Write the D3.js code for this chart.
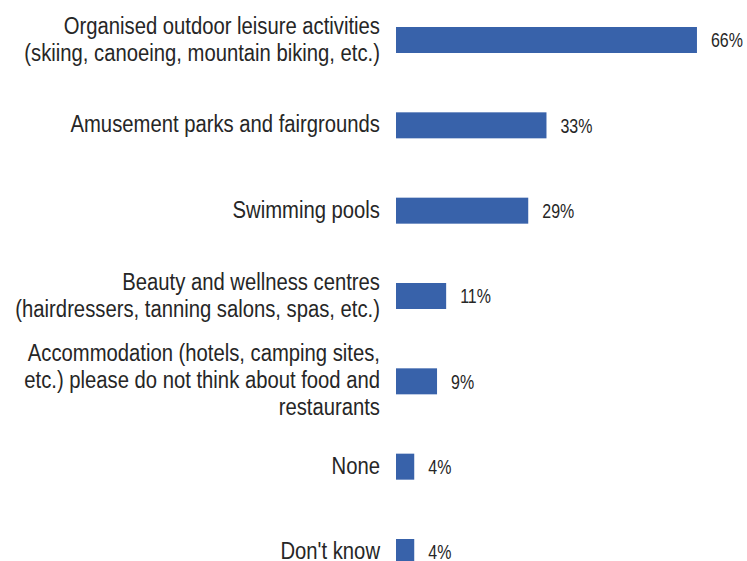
<!DOCTYPE html>
<html><head><meta charset="utf-8">
<script src="https://cdn.jsdelivr.net/npm/d3@7"></script>
<style>
body{margin:0;background:#fff;}
text{font-family:"Liberation Sans",Arial,sans-serif;fill:#262626;}
</style></head><body>
<svg id="c" width="747" height="561"></svg>
<script>
const categories = [
  ["Organised outdoor leisure activities","(skiing, canoeing, mountain biking, etc.)"],
  ["Amusement parks and fairgrounds"],
  ["Swimming pools"],
  ["Beauty and wellness centres","(hairdressers, tanning salons, spas, etc.)"],
  ["Accommodation (hotels, camping sites,","etc.) please do not think about food and","restaurants"],
  ["None"],
  ["Don't know"]
];
const values = [66, 33, 29, 11, 9, 4, 4];
const valueLabels = ["66%","33%","29%","11%","9%","4%","4%"];

const svg = d3.select("#c");
const x = d3.scaleLinear().domain([0, 100]).range([396, 852]);
const y = d3.scalePoint().domain(d3.range(categories.length)).range([40, 552]);
const barH = 26;
const lineH = 27;
const labelFS = 23, valueFS = 21;

svg.selectAll("rect").data(values).join("rect")
  .attr("x", x(0)).attr("y", (d,i)=>y(i)-barH/2)
  .attr("width", d=>x(d)-x(0)).attr("height", barH)
  .attr("fill", "#3862AA");

// narrowing factors so the font mimics a condensed face
const probe = svg.append("text").attr("font-size", labelFS).text(categories[0][1]);
const sx = 356 / probe.node().getComputedTextLength();
probe.attr("font-size", valueFS).text(valueLabels[2]);
const sv = 32 / probe.node().getComputedTextLength();
probe.remove();

values.forEach((d, i) => {
  svg.append("g").attr("transform", `translate(${x(d)+14},${y(i)}) scale(${sv},1)`)
    .append("text").attr("x", 0).attr("y", 0).attr("dy","0.35em")
    .attr("font-size", valueFS).text(valueLabels[i]);
});

categories.forEach((lines, i) => {
  const g = svg.append("g").attr("transform", `translate(380,0) scale(${sx},1)`);
  const t = g.append("text").attr("text-anchor","end").attr("font-size", labelFS);
  const n = lines.length;
  lines.forEach((ln, j) => {
    t.append("tspan").attr("x", 0)
      .attr("y", y(i) + (j - (n-1)/2) * lineH).attr("dy","0.31em").text(ln);
  });
});
</script></body></html>
